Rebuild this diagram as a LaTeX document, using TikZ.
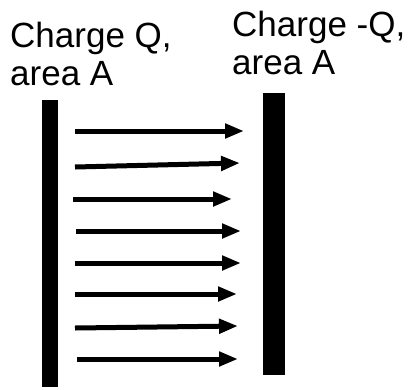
\documentclass[tikz,border=0pt]{standalone}
\usepackage{fontspec}
\setmainfont{Liberation Sans}
\usetikzlibrary{arrows.meta}

\begin{document}
\begin{tikzpicture}[x=1pt,y=-1pt,
		plate/.style={fill=black},
		field/.style={line width=5pt, -{Triangle[length=19pt,width=14pt]}},
		charge/.style={inner sep=0pt, align=left, anchor=base west, font=\fontsize{35}{38}\selectfont}]
		\useasboundingbox (0,0) rectangle (412,389);
		
		\fill[plate] (42,100) rectangle (58,387);
		\fill[plate] (263,93) rectangle (285,375);
		\node[charge] (qpos) at (10,85) {Charge Q,\\area A};
		\node[charge] (qneg) at (232,74) {Charge -Q,\\area A};
		
		\foreach \i/\ya/\xa/\yb/\xb in {1/131/75/131/244, 2/167/75/163/240, 3/199/73/199/232, 4/231/76/231/241,
			5/263/75/263/241, 6/294/75/294/237, 7/328/75/326/238, 8/359/77/359/238}{
			\coordinate (s\i) at (\xa,\ya);
			\coordinate (e\i) at (\xb,\yb);
			\draw[field] (s\i) -- (e\i);
		}
	\end{tikzpicture}
\end{document}
